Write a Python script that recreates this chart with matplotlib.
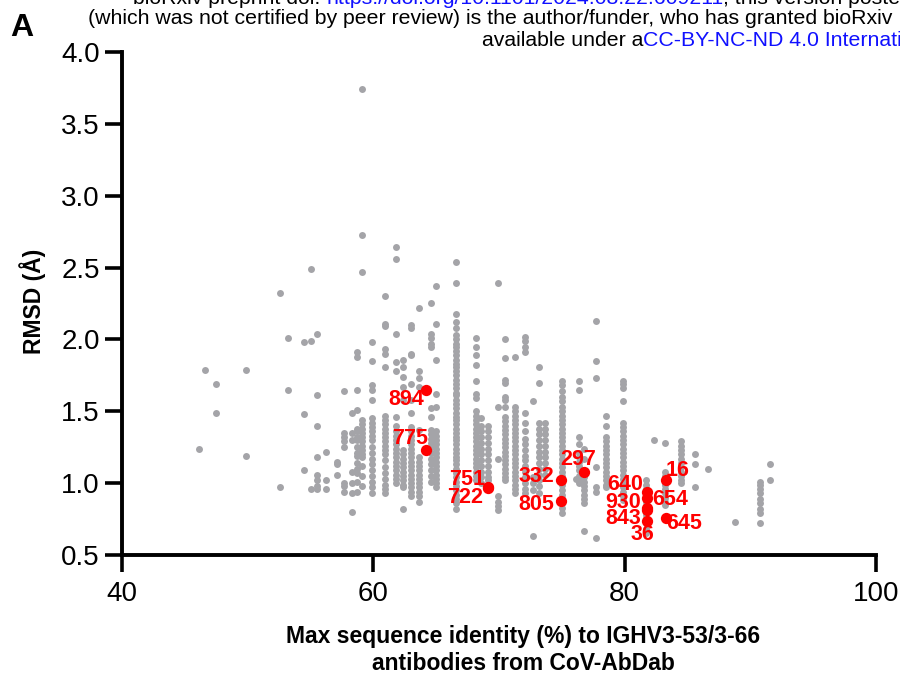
import matplotlib
matplotlib.use('Agg')
import matplotlib.pyplot as plt

# gray points, one column per identity value (x), RMSD values in each column
gray_cols = [46.1, 46.6, 47.5, 49.9, 52.6, 53.2, 54.5, 55.0, 55.5, 56.2, 57.1, 57.7, 58.3, 58.7,
             59.1, 59.9, 60.9, 61.8, 62.4, 63.0, 63.6, 64.6, 65.0, 66.6, 68.2, 68.6, 69.1, 69.9,
             70.5, 71.3, 72.1, 72.7, 73.2, 73.7, 75.0, 76.1, 76.4, 76.8, 77.7, 78.5, 79.9, 81.7,
             82.3, 83.2, 84.5, 85.6, 86.6, 88.8, 90.8, 91.6]
gray_vals = [
    [1.24],
    [1.79],
    [1.69, 1.49],
    [1.79, 1.19],
    [2.32, 0.97],
    [2.01, 1.65],
    [1.98, 1.48, 1.09],
    [2.49, 1.99, 0.96],
    [2.04, 1.61, 1.40, 1.18, 1.06, 1.02, 0.98, 0.96],
    [1.22, 1.02, 0.96],
    [1.15, 1.13, 1.06],
    [1.64, 1.35, 1.32, 1.29, 1.25, 1.00, 0.98, 0.94],
    [1.49, 1.35, 1.30, 1.08, 1.00, 0.93, 0.80],
    [1.91, 1.88, 1.65, 1.51, 1.38, 1.36, 1.32, 1.30, 1.25, 1.21, 1.19, 1.14, 1.10, 1.07, 1.01, 0.94],
    [3.74, 2.73, 2.47, 1.44, 1.41, 1.38, 1.35, 1.32, 1.29, 1.26, 1.23, 1.20, 1.18, 1.12, 1.05, 0.98],
    [1.98, 1.85, 1.68, 1.65, 1.58, 1.45, 1.42, 1.39, 1.36, 1.33, 1.30, 1.25, 1.21, 1.17, 1.13, 1.09,
     1.05, 1.01, 0.97, 0.93],
    [2.30, 2.11, 2.09, 1.93, 1.90, 1.81, 1.47, 1.44, 1.41, 1.38, 1.35, 1.32, 1.29, 1.26, 1.23, 1.20,
     1.16, 1.11, 1.07, 1.03, 0.99, 0.96, 0.93],
    [2.64, 2.56, 2.04, 1.84, 1.78, 1.46, 1.40, 1.36, 1.33, 1.30, 1.27, 1.24, 1.21, 1.18, 1.15, 1.12,
     1.09, 1.06, 1.03, 1.00],
    [1.86, 1.81, 1.74, 1.67, 1.58, 1.23, 1.20, 1.17, 1.14, 1.11, 1.08, 1.05, 1.02, 0.99, 0.97, 0.82],
    [2.10, 2.08, 1.90, 1.89, 1.69, 1.58, 1.49, 1.39, 1.36, 1.33, 1.30, 1.27, 1.24, 1.21, 1.18, 1.15,
     1.12, 1.09, 1.06, 1.03, 1.00, 0.97, 0.94, 0.91],
    [2.22, 1.78, 1.73, 1.67, 1.37, 1.18, 1.15, 1.12, 1.09, 1.06, 1.03, 1.00, 0.97, 0.94, 0.91, 0.87],
    [2.25, 2.04, 2.01, 1.97, 1.95, 1.52, 1.46, 1.37, 1.34, 1.31, 1.28, 1.25, 1.21, 1.17, 1.13, 1.09,
     1.05, 1.01],
    [2.37, 2.11, 1.86, 1.62, 1.53, 1.36, 1.33, 1.30, 1.27, 1.24, 1.21, 1.18, 1.15, 1.12, 1.09, 1.06,
     1.03, 1.00, 0.97],
    [2.54, 2.39, 2.18, 2.12, 2.08, 2.03, 2.00, 1.97, 1.95, 1.92, 1.89, 1.86, 1.83, 1.81, 1.78, 1.75,
     1.72, 1.69, 1.66, 1.63, 1.61, 1.58, 1.55, 1.52, 1.49, 1.46, 1.44, 1.41, 1.38, 1.35, 1.32, 1.30,
     1.27, 1.24, 1.21, 1.18, 1.16, 1.13, 1.10, 1.07, 1.04, 1.01, 0.98, 0.95, 0.92, 0.89, 0.86, 0.82],
    [2.01, 1.95, 1.89, 1.82, 1.71, 1.62, 1.59, 1.50, 1.47, 1.44, 1.41, 1.38, 1.35, 1.32, 1.29, 1.26,
     1.23, 1.20, 1.17, 1.14, 1.11, 1.08, 1.05, 1.02],
    [1.45, 1.40, 1.36, 1.32, 1.28, 1.24, 1.20, 1.16, 1.12, 1.08, 1.04, 1.00],
    [1.40, 1.36, 1.32, 1.28, 1.24, 1.20, 1.16, 1.12, 1.08, 1.04, 1.02],
    [2.39, 1.53, 1.17, 0.91, 0.87, 0.84, 0.81],
    [2.00, 1.87, 1.72, 1.70, 1.60, 1.58, 1.53, 1.46, 1.43, 1.40, 1.37, 1.34, 1.31, 1.28, 1.25, 1.22,
     1.19, 1.16, 1.13, 1.10, 1.07, 1.04, 1.02],
    [1.88, 1.53, 1.50, 1.47, 1.44, 1.41, 1.38, 1.35, 1.32, 1.29, 1.26, 1.23, 1.20, 1.17, 1.14, 1.11,
     1.08, 1.05, 1.02, 0.99, 0.96, 0.93],
    [2.02, 1.99, 1.95, 1.91, 1.49, 1.42, 1.36, 1.31, 1.27, 1.23, 1.19, 1.16, 1.12, 1.08, 1.04, 1.00,
     0.96, 0.93],
    [1.57, 1.04, 1.00, 0.95, 0.63],
    [1.81, 1.70, 1.42, 1.38, 1.34, 1.30, 1.26, 1.22, 1.18, 1.14, 1.10, 1.06, 1.02, 0.98, 0.93],
    [1.42, 1.38, 1.34, 1.30, 1.26, 1.22, 1.18, 1.14, 1.10, 1.06],
    [1.71, 1.68, 1.64, 1.60, 1.57, 1.53, 1.50, 1.47, 1.44, 1.41, 1.38, 1.35, 1.32, 1.29, 1.26, 1.23,
     1.20, 1.17, 1.14, 1.11, 1.08, 1.05, 0.99, 0.95, 0.92, 0.89, 0.86, 0.83, 0.79],
    [1.03],
    [1.71, 1.65, 1.32, 1.27, 1.21, 1.18, 1.15, 1.12, 1.09, 1.05, 1.02, 1.00],
    [1.24, 1.17, 1.07, 1.04, 1.01, 0.98, 0.95, 0.92, 0.89, 0.86, 0.67],
    [2.13, 1.85, 1.73, 1.11, 0.97, 0.94, 0.62],
    [1.47, 1.40, 1.32, 1.29, 1.26, 1.23, 1.20, 1.17, 1.14, 1.11, 1.08, 1.05, 1.02, 0.99, 0.97],
    [1.71, 1.69, 1.66, 1.57, 1.42, 1.39, 1.36, 1.33, 1.30, 1.27, 1.24, 1.21, 1.18, 1.15, 1.12, 1.09,
     1.06, 1.03, 1.00, 0.97, 0.94, 0.91, 0.88],
    [1.02, 0.99, 0.96, 0.93, 0.90, 0.87, 0.84, 0.81, 0.78, 0.75, 0.72, 0.68, 0.65],
    [1.30],
    [1.28, 1.08, 1.05, 1.02, 0.99, 0.96, 0.93, 0.90, 0.87, 0.85],
    [1.29, 1.26, 1.23, 1.20, 1.17, 1.14, 1.11, 1.08, 1.05, 1.02, 1.00],
    [1.20, 1.13, 0.97],
    [1.10],
    [0.73],
    [1.01, 0.99, 0.96, 0.93, 0.89, 0.86, 0.82, 0.79, 0.72],
    [1.13, 1.02],
]

# highlighted antibodies
red_ids = ['894', '775', '751', '722', '332', '805', '297', '640', '654', '930', '843', '36', '16', '645']
red_x = [64.2, 64.2, 69.1, 69.1, 74.9, 74.9, 76.8, 81.8, 81.8, 81.8, 81.8, 81.8, 83.25, 83.25]
red_y = [1.65, 1.23, 0.97, 0.965, 1.02, 0.875, 1.08, 0.935, 0.895, 0.83, 0.81, 0.74, 1.025, 0.755]

x_ticks = [40, 60, 80, 100]
y_ticks = [0.5, 1.0, 1.5, 2.0, 2.5, 3.0, 3.5, 4.0]

plt.rcParams['font.family'] = ['Liberation Sans', 'DejaVu Sans']

fig = plt.figure(figsize=(9, 6.74), dpi=100)
ax = fig.add_axes([122/900, 1-555/674, (876-122)/900, (555-52)/674])

gx = []
gy = []
for cx, ys in zip(gray_cols, gray_vals):
    gx += [cx]*len(ys)
    gy += ys
ax.scatter(gx, gy, s=25, color='#a4a4a8', linewidths=0, zorder=2, clip_on=False)
ax.scatter(red_x, red_y, s=66, color='#ff0000', linewidths=0, zorder=3, clip_on=False)

# label offsets in pixels (text centre relative to point)
offs = {'894': (-20, -10), '775': (-16, 12), '751': (-21, 8), '722': (-23, -9),
        '332': (-24, 4), '805': (-24, -3), '297': (-6, 12), '640': (-22, 8),
        '654': (23, -1), '930': (-24, 5), '843': (-24, -8), '36': (-5, -14),
        '16': (12, 9), '645': (19, -5)}
for lab, px, py in zip(red_ids, red_x, red_y):
    ax.annotate(lab, (px, py), xytext=offs[lab], textcoords='offset pixels',
                ha='center', va='center', color='#ff0000', fontsize=15.5,
                fontweight='bold', zorder=4)

ax.set_xlim(40, 100)
ax.set_ylim(0.5, 4.0)
ax.set_xticks(x_ticks)
ax.set_yticks(y_ticks)
ax.set_yticklabels(['%.1f' % v for v in y_ticks])
ax.tick_params(labelsize=20, width=2.6, length=12)
ax.tick_params(axis='y', pad=4)
ax.tick_params(axis='x', pad=7)
for s in ['top', 'right']:
    ax.spines[s].set_visible(False)
for s in ['left', 'bottom']:
    ax.spines[s].set_linewidth(2.8)

ax.set_xlabel('Max sequence identity (%) to IGHV3-53/3-66\nantibodies from CoV-AbDab',
              fontsize=16.5, fontweight='bold', linespacing=1.2)
ax.xaxis.set_label_coords(0.532, -0.139)
ax.set_ylabel('RMSD (Å)', fontsize=16.5, fontweight='bold')
ax.yaxis.set_label_coords(-0.101, 0.505)

fig.text(10/900, 1-28/674, 'A', fontsize=23, fontweight='bold', va='center', ha='left')

# preprint header
hfont = ['Liberation Sans Narrow', 'Liberation Sans']
r = fig.canvas.get_renderer()
line2 = '(which was not certified by peer review) is the author/funder, who has granted bioRxiv'
t2 = fig.text(88/900, 1-19/674, line2, fontsize=12, family=hfont, va='center')
w = t2.get_window_extent(r).width
fs = 12*(897-88)/w
t2.set_fontsize(fs)


def seg(x0, y0, parts):
    x = x0
    for txt, col in parts:
        t = fig.text(x/900, 1-y0/674, txt, fontsize=fs, family=hfont, va='center', color=col)
        x += t.get_window_extent(r).width


seg(133, -2, [('bioRxiv preprint doi: ', 'black'),
              ('https://doi.org/10.1101/2024.08.22.609211', '#1010ff'),
              ('; this version posted August 24, 2024.', 'black')])
seg(482, 40, [('available under a', 'black'),
              ('CC-BY-NC-ND 4.0 International license', '#1010ff')])

fig.savefig('out.png', dpi=100)
